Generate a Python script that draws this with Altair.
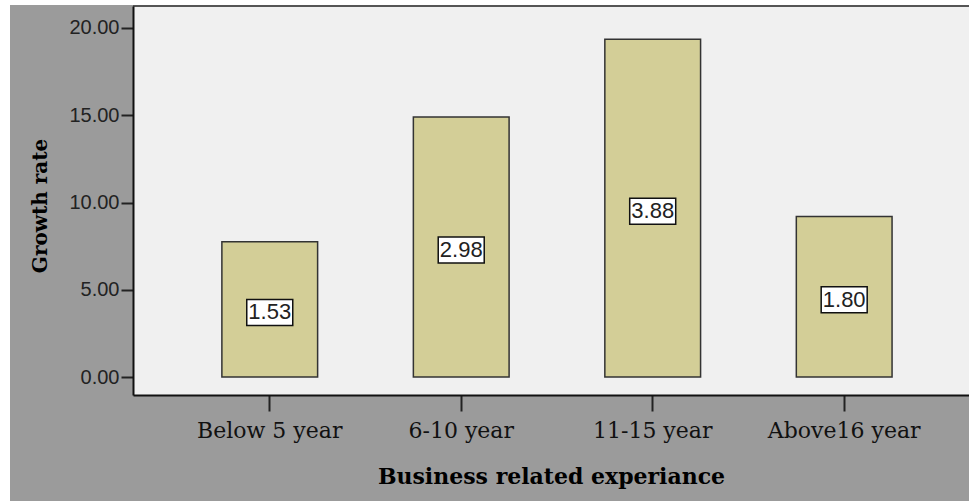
import altair as alt
import pandas as pd

categories = ["Below 5 year", "6-10 year", "11-15 year", "Above16 year"]
bar_values = [7.75, 14.9, 19.35, 9.2]
label_values = ["1.53", "2.98", "3.88", "1.80"]
y_ticks = [0, 5, 10, 15, 20]

W, H = 836, 389

df = pd.DataFrame({"cat": categories, "val": bar_values, "lab": label_values})
df["mid"] = df["val"] / 2

xscale = alt.Scale(domain=categories, paddingInner=0.5, paddingOuter=0.433, align=0.536)
yscale = alt.Scale(domain=[-1.03, 21.26], nice=False, zero=False)

xaxis = alt.Axis(
    title="Business related experiance", titleFont="DejaVu Serif", titleFontSize=22,
    titleFontWeight="bold", titleColor="#000", titleY=81, titleBaseline="middle",
    labelFont="DejaVu Serif", labelFontSize=22, labelColor="#111", labelAngle=0,
    labelPadding=9, tickSize=16, tickWidth=2, tickColor="#222",
    domainColor="#111", domainWidth=2, zindex=2,
)
yaxis = alt.Axis(
    title="Growth rate", titleFont="DejaVu Serif", titleFontSize=20, titleFontWeight="bold",
    titleColor="#000", titleX=-93, titleY=H / 2 + 5, titleAngle=270, titleBaseline="middle",
    titleAlign="center",
    values=y_ticks, format=".2f", labelFont="Liberation Sans", labelFontSize=20,
    labelColor="#222", labelPadding=2, tickSize=12, tickWidth=2, tickColor="#222",
    domainColor="#111", domainWidth=2, grid=False, zindex=2,
)

one = pd.DataFrame({"a": [0]})
bg = alt.Chart(one).mark_rect(color="#9B9B9B").encode(
    x=alt.value(-123), x2=alt.value(W), y=alt.value(-1), y2=alt.value(H + 110)
)
plotbg = alt.Chart(one).mark_rect(color="#F0F0F0").encode(
    x=alt.value(0), x2=alt.value(W), y=alt.value(0), y2=alt.value(H)
)
topline = alt.Chart(one).mark_rule(color="#555", strokeWidth=2).encode(
    x=alt.value(0), x2=alt.value(W), y=alt.value(0)
)

bars = alt.Chart(df).mark_bar(color="#D3CE97", stroke="#333", strokeWidth=1.5).encode(
    x=alt.X("cat:N", scale=xscale, axis=xaxis, sort=categories),
    y=alt.Y("val:Q", scale=yscale, axis=yaxis),
    y2=alt.datum(0),
)
boxes = alt.Chart(df).mark_bar(
    color="white", stroke="#111", strokeWidth=1.5, width=46, yOffset=-10, y2Offset=16
).encode(
    x=alt.X("cat:N", scale=xscale, sort=categories),
    y=alt.Y("mid:Q", scale=yscale),
    y2="mid:Q",
)
texts = alt.Chart(df).mark_text(
    font="Liberation Sans", fontSize=22, color="#222", baseline="middle", dy=3
).encode(
    x=alt.X("cat:N", scale=xscale, sort=categories),
    y=alt.Y("mid:Q", scale=yscale),
    text="lab:N",
)

chart = alt.layer(bg, plotbg, topline, bars, boxes, texts).properties(
    width=W, height=H,
    autosize=alt.AutoSizeParams(type="none"),
    padding={"left": 133, "top": 6, "right": 0, "bottom": 106},
    background="white",
).configure_view(stroke=None, fill=None)

chart.save("out.html", embed_options={"renderer": "svg", "actions": False})
